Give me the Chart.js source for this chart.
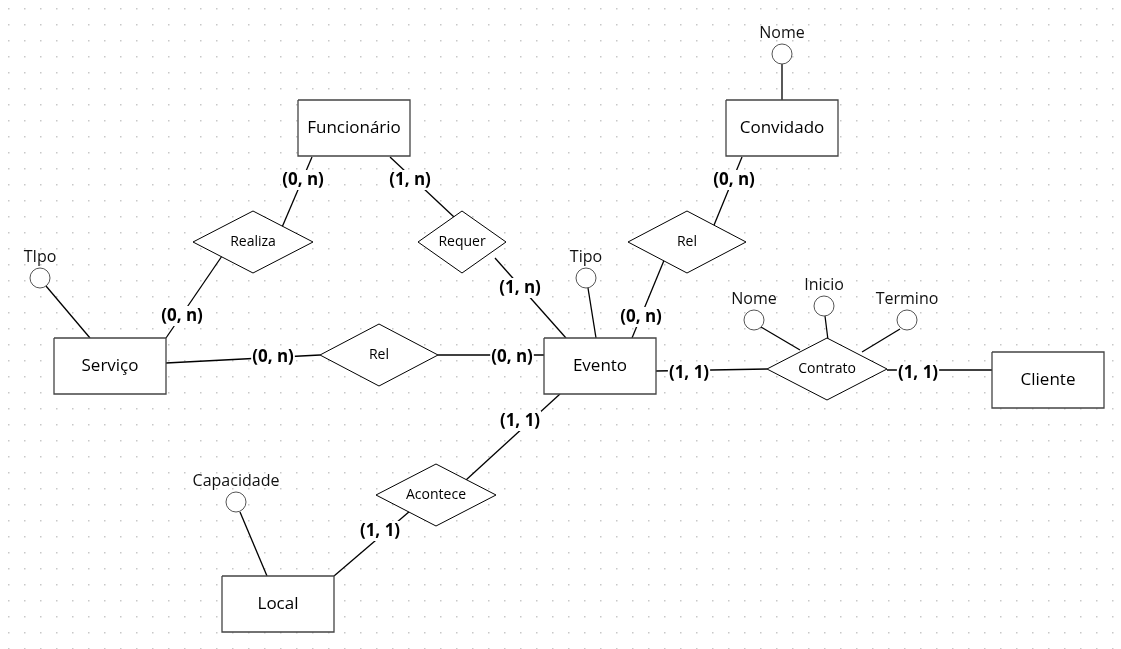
<!DOCTYPE html>
<html>
<head>
<meta charset="utf-8">
<script src="https://cdn.jsdelivr.net/npm/chart.js@4/dist/chart.umd.min.js"></script>
<style>
html, body { margin: 0; padding: 0; background: #fff; }
#wrap { width: 1121px; height: 649px; }
</style>
</head>
<body>
<div id="wrap"><canvas id="chart"></canvas></div>
<script>
// entities: name, center x, center y
let entityNames = ["Funcionário", "Convidado", "Serviço", "Evento", "Cliente", "Local"];
let entityX = [354, 782, 110, 600, 1048, 278];
let entityY = [128, 128, 366, 366, 380, 604];

// relationships (diamonds)
let relNames = ["Realiza", "Requer", "Rel", "Rel", "Contrato", "Acontece"];
let relX = [253, 462, 687, 379, 827, 436];
let relY = [242, 242, 242, 355, 369, 495];
let relW = [120, 88, 118, 118, 120, 120];

// attributes (circles + label above)
let attrNames = ["Nome", "TIpo", "Tipo", "Nome", "Inicio", "Termino", "Capacidade"];
let attrX = [782, 40, 586, 754, 824, 907, 236];
let attrY = [54, 278, 278, 320, 306, 320, 502];

// links: [x1, y1, x2, y2]
let links = [
    [312, 157, 280, 232], [222, 256, 166, 338],
    [390, 157, 470, 232], [495, 258, 566, 338],
    [742, 157, 712, 230], [665, 258, 632, 338],
    [166, 363, 320, 355], [438, 355, 544, 355],
    [656, 371, 767, 369], [887, 370, 992, 370],
    [560, 394, 466, 480], [410, 511, 334, 576],
    [782, 64, 782, 100], [46, 286, 90, 338], [588, 288, 596, 338],
    [761, 327, 800, 350], [825, 316, 828, 340], [900, 329, 862, 352],
    [240, 512, 267, 576]
];

// cardinalities
let cardText = ["(0, n)", "(0, n)", "(1, n)", "(1, n)", "(0, n)", "(0, n)", "(0, n)", "(0, n)", "(1, 1)", "(1, 1)", "(1, 1)", "(1, 1)"];
let cardX = [303, 182, 410, 520, 734, 641, 273, 512, 689, 918, 520, 380];
let cardY = [180, 316, 180, 288, 180, 317, 357, 357, 373, 373, 421, 531];

let datasets = [];
links.forEach(l => {
    datasets.push({ data: [{x: l[0], y: l[1]}, {x: l[2], y: l[3]}], showLine: true,
        borderColor: "#000", borderWidth: 1.3, pointRadius: 0, order: 3 });
});
entityX.forEach((cx, i) => {
    let cy = entityY[i], w = 56, h = 28;
    datasets.push({ data: [{x: cx - w, y: cy - h}, {x: cx + w, y: cy - h}, {x: cx + w, y: cy + h}, {x: cx - w, y: cy + h}, {x: cx - w, y: cy - h}],
        showLine: true, fill: "shape", backgroundColor: "#fff", borderColor: "#444", borderWidth: 1.3, pointRadius: 0, order: 2 });
});
relX.forEach((cx, i) => {
    let cy = relY[i], w = relW[i] / 2, h = 31;
    datasets.push({ data: [{x: cx - w, y: cy}, {x: cx, y: cy - h}, {x: cx + w, y: cy}, {x: cx, y: cy + h}, {x: cx - w, y: cy}],
        showLine: true, fill: "shape", backgroundColor: "#fff", borderColor: "#000", borderWidth: 1, pointRadius: 0, order: 2 });
});
datasets.push({ data: attrX.map((x, i) => ({x: x, y: attrY[i]})), pointRadius: 10,
    pointBackgroundColor: "#fff", pointBorderColor: "#555", pointBorderWidth: 1, showLine: false, order: 1 });

let dotGrid = {
    id: "dotGrid",
    beforeDraw(chart) {
        let c = chart.ctx;
        c.save();
        c.fillStyle = "#fff";
        c.fillRect(0, 0, chart.width, chart.height);
        c.fillStyle = "#c8c8c8";
        for (let x = 8; x < chart.width; x += 16)
            for (let y = 8; y < chart.height; y += 16)
                c.fillRect(x, y, 1.5, 1.5);
        c.restore();
    }
};

let labels = {
    id: "labels",
    afterDatasetsDraw(chart) {
        let c = chart.ctx, sx = chart.scales.x, sy = chart.scales.y;
        c.save();
        c.textAlign = "center";
        c.textBaseline = "middle";
        c.fillStyle = "#000";
        c.font = "17px 'Open Sans'";
        entityNames.forEach((t, i) => c.fillText(t, sx.getPixelForValue(entityX[i]), sy.getPixelForValue(entityY[i])));
        c.font = "14px 'Open Sans'";
        relNames.forEach((t, i) => c.fillText(t, sx.getPixelForValue(relX[i]), sy.getPixelForValue(relY[i])));
        c.font = "16px 'Open Sans'";
        c.fillStyle = "#111";
        attrNames.forEach((t, i) => c.fillText(t, sx.getPixelForValue(attrX[i]), sy.getPixelForValue(attrY[i] - 21)));
        c.font = "bold 17px 'Open Sans'";
        cardText.forEach((t, i) => {
            let x = sx.getPixelForValue(cardX[i]), y = sy.getPixelForValue(cardY[i]);
            let w = c.measureText(t).width;
            c.fillStyle = "#fff";
            c.fillRect(x - w / 2 - 1, y - 10, w + 2, 20);
            c.fillStyle = "#000";
            c.fillText(t, x, y);
        });
        c.restore();
    }
};

let chart = new Chart(document.getElementById("chart"), {
    type: "scatter",
    data: { datasets: datasets },
    options: {
        animation: false,
        responsive: true,
        maintainAspectRatio: false,
        layout: { padding: 0, autoPadding: false },
        plugins: { legend: { display: false }, tooltip: { enabled: false } },
        scales: {
            x: { type: "linear", min: 0, max: 1121, display: false },
            y: { type: "linear", min: 0, max: 649, reverse: true, display: false }
        }
    },
    plugins: [dotGrid, labels]
});
</script>
</body>
</html>
